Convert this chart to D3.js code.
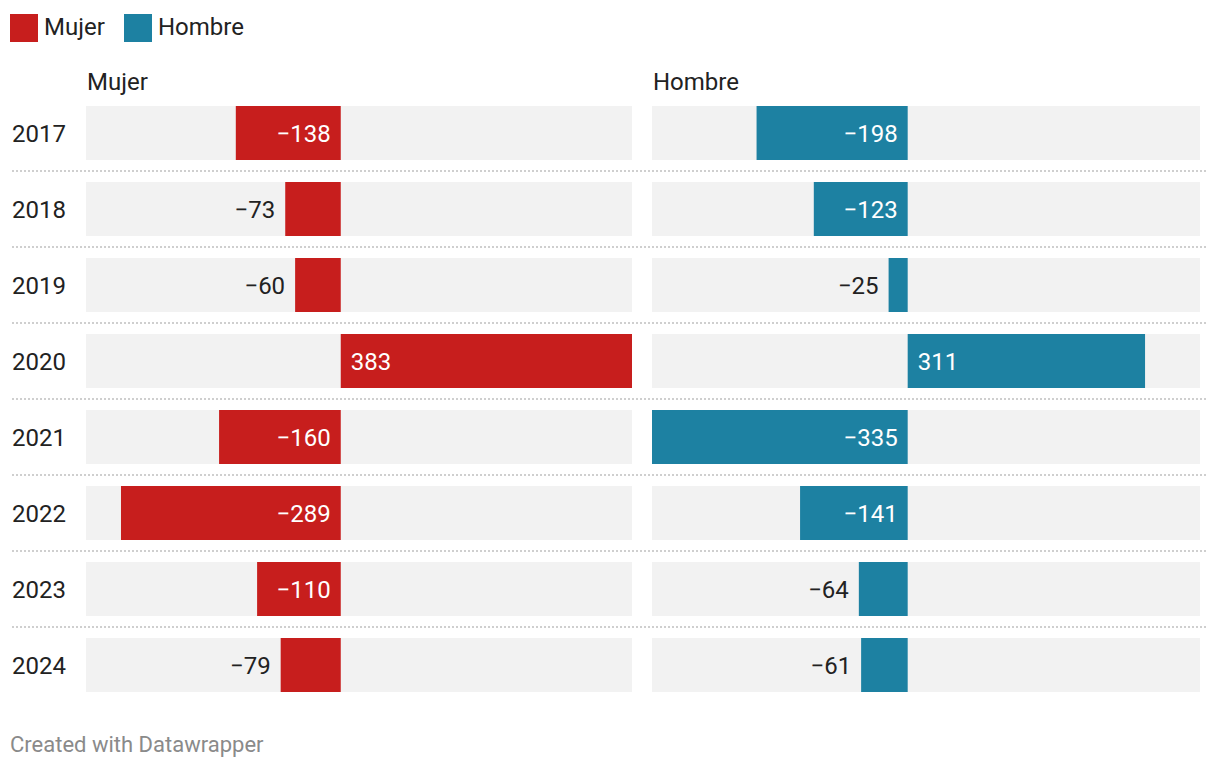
<!DOCTYPE html>
<html>
<head>
<meta charset="utf-8">
<script src="https://cdn.jsdelivr.net/npm/d3@7"></script>
<style>
  html, body { margin: 0; padding: 0; background: #fff; }
  svg { display: block; font-family: Roboto, "Noto Sans", sans-serif; }
</style>
</head>
<body>
<svg id="chart" width="1220" height="770"></svg>
<script>
const years = ["2017", "2018", "2019", "2020", "2021", "2022", "2023", "2024"];
const mujer = [-138, -73, -60, 383, -160, -289, -110, -79];
const hombre = [-198, -123, -25, 311, -335, -141, -64, -61];
const seriesNames = ["Mujer", "Hombre"];
const seriesColors = ["#c71e1d", "#1d81a2"];
const footerText = "Created with Datawrapper";

const svg = d3.select("#chart");

// Legend
const legend = svg.append("g");
const legendX = [10, 124];
seriesNames.forEach((name, i) => {
  const g = legend.append("g").attr("transform", `translate(${legendX[i]},14)`);
  g.append("rect").attr("width", 28).attr("height", 28).attr("fill", seriesColors[i]);
  g.append("text").attr("x", 34).attr("y", 12).attr("dy", "0.36em")
    .attr("font-size", 24).attr("fill", "#222").text(name);
});

// Shared value scale domain
const allVals = mujer.concat(hombre);
const domain = [d3.min(allVals), d3.max(allVals)];

const y = d3.scaleBand().domain(years).range([95, 703]).paddingInner(22 / 76).paddingOuter(11 / 76);

// Separators
svg.append("g").selectAll("line").data(years.slice(1)).join("line")
  .attr("x1", 12).attr("x2", 1208)
  .attr("y1", d => y(d) - 11).attr("y2", d => y(d) - 11)
  .attr("stroke", "#cfcfcf").attr("stroke-width", 2).attr("stroke-dasharray", "2,2");

// Year labels
svg.append("g").selectAll("text").data(years).join("text")
  .attr("x", 12).attr("y", d => y(d) + y.bandwidth() / 2).attr("dy", "0.36em")
  .attr("font-size", 24).attr("fill", "#222").text(d => d);

const panels = [
  { name: seriesNames[0], values: mujer, color: seriesColors[0], range: [86, 632] },
  { name: seriesNames[1], values: hombre, color: seriesColors[1], range: [652, 1200] }
];

const fmt = v => (v < 0 ? "\u2212" + Math.abs(v) : String(v));

panels.forEach(p => {
  const x = d3.scaleLinear().domain(domain).range(p.range);
  const g = svg.append("g");
  g.append("text").attr("x", p.range[0] + 1).attr("y", 90)
    .attr("font-size", 24).attr("fill", "#222").text(p.name);

  // background
  g.selectAll("rect.bg").data(years).join("rect").attr("class", "bg")
    .attr("x", p.range[0]).attr("width", p.range[1] - p.range[0])
    .attr("y", d => y(d)).attr("height", y.bandwidth()).attr("fill", "#f2f2f2");

  const data = years.map((yr, i) => ({ yr, v: p.values[i] }));
  g.selectAll("rect.bar").data(data).join("rect").attr("class", "bar")
    .attr("x", d => x(Math.min(0, d.v))).attr("width", d => Math.abs(x(d.v) - x(0)))
    .attr("y", d => y(d.yr)).attr("height", y.bandwidth()).attr("fill", p.color);

  const labels = g.selectAll("text.val").data(data).join("text").attr("class", "val")
    .attr("font-size", 24).attr("y", d => y(d.yr) + y.bandwidth() / 2).attr("dy", "0.36em")
    .text(d => fmt(d.v));
  labels.each(function(d) {
    const t = d3.select(this);
    const tw = this.getComputedTextLength();
    const bw = Math.abs(x(d.v) - x(0));
    const inside = tw + 24 < bw;
    if (d.v < 0) {
      if (inside) t.attr("x", x(0) - 10).attr("text-anchor", "end").attr("fill", "#fff");
      else t.attr("x", x(d.v) - 10).attr("text-anchor", "end").attr("fill", "#222");
    } else {
      if (inside) t.attr("x", x(0) + 10).attr("text-anchor", "start").attr("fill", "#fff");
      else t.attr("x", x(d.v) + 10).attr("text-anchor", "start").attr("fill", "#222");
    }
  });
});

svg.append("text").attr("x", 10).attr("y", 752)
  .attr("font-size", 22).attr("fill", "#8a8a8a").text(footerText);
</script>
</body>
</html>
